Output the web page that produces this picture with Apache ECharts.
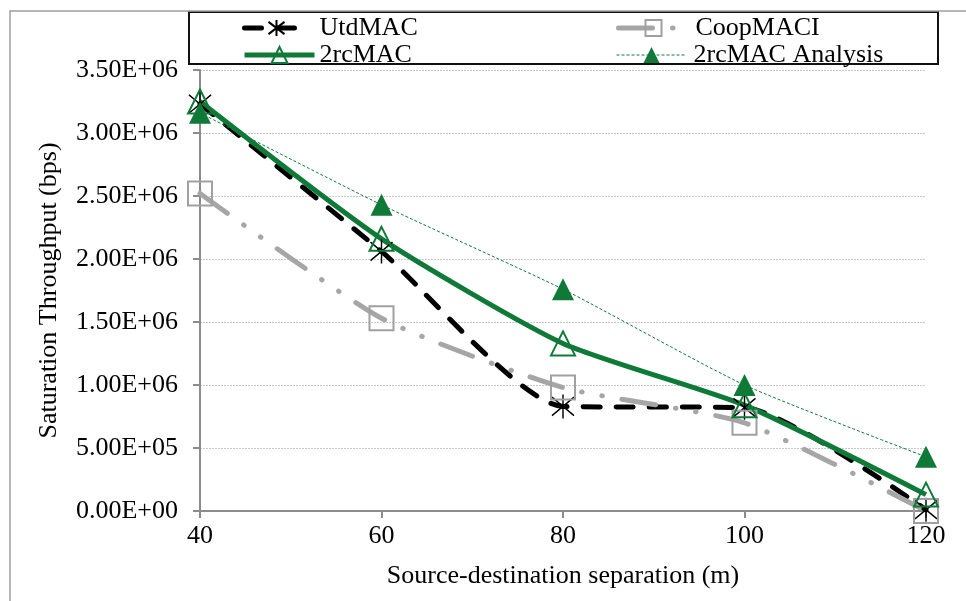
<!DOCTYPE html>
<html>
<head>
<meta charset="utf-8">
<script src="https://cdn.jsdelivr.net/npm/echarts@6/dist/echarts.min.js"></script>
<style>html,body{margin:0;padding:0;background:#fff}#c{width:966px;height:601px}</style>
</head>
<body>
<div id="c"></div>
<script>
var distances = [40, 60, 80, 100, 120];
var utdmac   = [3.23e6, 2.06e6, 0.83e6, 0.82e6, 0.01e6];
var coopmaci = [2.52e6, 1.53e6, 0.98e6, 0.70e6, 0.0];
var rcmac    = [3.25e6, 2.16e6, 1.33e6, 0.84e6, 0.13e6];
var analysis = [3.16e6, 2.43e6, 1.76e6, 1.00e6, 0.43e6];
var yTicks = {min: 0, max: 3.5e6, interval: 5e5};
var xTicks = {min: 40, max: 120, interval: 20};

function pairs(xs, ys){ return xs.map(function(x,i){return [x, ys[i]];}); }
function fmtE(v){
  var s = Number(v).toExponential(2).split('e');
  var e = parseInt(s[1],10);
  var sign = e < 0 ? '-' : '+';
  var a = Math.abs(e);
  return s[0] + 'E' + sign + (a < 10 ? '0' : '') + a;
}
var FONT = 'Liberation Serif';
var GREEN = '#0f7a38';
var GRAY = '#a6a6a6';
var star = 'path://M0,0L10,10M10,0L0,10M5,-1.5L5,11.5';

var chart = echarts.init(document.getElementById('c'), null, {renderer: 'canvas'});
function leg(name, left, top, w, pad){
  return {
    data: [name], left: left, top: top, padding: 0, itemWidth: w, itemHeight: 20,
    selectedMode: false,
    lineStyle: {width: 'inherit'},
    textStyle: {fontFamily: FONT, fontSize: 26, color: '#000', lineHeight: 20, padding: [0,0,0,pad]}
  };
}
chart.setOption({
  animation: false,
  backgroundColor: '#fff',
  grid: {left: 200, right: 40, top: 70, bottom: 90, containLabel: false},
  legend: [
    leg('UtdMAC', 242, 15, 64, 6),
    leg('CoopMACI', 616, 15, 70, 2),
    leg('2rcMAC', 242, 42, 70, 0),
    leg('2rcMAC Analysis', 616, 42, 70, 2)
  ],
  graphic: [
    {type: 'polyline', silent: true, shape: {points: [[10,601],[10,11],[966,11]]},
     style: {stroke: '#a0a0a0', lineWidth: 1.5, fill: null}},
    {type: 'rect', silent: true, z: -1, shape: {x: 189, y: 12, width: 749, height: 52},
     style: {fill: '#fff', stroke: '#111', lineWidth: 2}}
  ],
  xAxis: {
    type: 'value', min: xTicks.min, max: xTicks.max, interval: xTicks.interval,
    name: 'Source-destination separation (m)', nameLocation: 'middle', nameGap: 52,
    nameTextStyle: {fontFamily: FONT, fontSize: 26, color: '#000'},
    axisLine: {lineStyle: {color: '#8c8c8c', width: 2}},
    axisTick: {show: true, length: 7, lineStyle: {color: '#8c8c8c', width: 2}},
    axisLabel: {fontFamily: FONT, fontSize: 26, color: '#000', margin: 12},
    splitLine: {show: false}
  },
  yAxis: {
    type: 'value', min: yTicks.min, max: yTicks.max, interval: yTicks.interval,
    name: 'Saturation Throughput (bps)', nameLocation: 'middle', nameRotate: 90, nameGap: 138,
    nameTextStyle: {fontFamily: FONT, fontSize: 26, color: '#000', padding: [0,0,0,0]},
    axisLine: {show: true, lineStyle: {color: '#8c8c8c', width: 2}},
    axisTick: {show: true, length: 7, lineStyle: {color: '#8c8c8c', width: 2}},
    axisLabel: {fontFamily: FONT, fontSize: 26, color: '#000', margin: 22, formatter: fmtE},
    splitLine: {show: true, lineStyle: {color: '#c8c8c8', width: 1, type: [2,1]}}
  },
  series: [
    {name: 'UtdMAC', type: 'line', data: pairs(distances, utdmac), smooth: 0.2,
     symbol: star, symbolSize: [22, 24],
     lineStyle: {color: '#000', width: 5, type: [17, 16], cap: 'round'},
     itemStyle: {color: 'rgba(0,0,0,0)', borderColor: '#000', borderWidth: 1.5}},
    {name: 'CoopMACI', type: 'line', data: pairs(distances, coopmaci), smooth: 0.2,
     symbol: 'rect', symbolSize: 24,
     lineStyle: {color: GRAY, width: 5, type: [34, 20, 0.5, 20, 0.5, 20], cap: 'round'},
     itemStyle: {color: 'rgba(0,0,0,0)', borderColor: '#a0a0a0', borderWidth: 2}},
    {name: '2rcMAC', type: 'line', data: pairs(distances, rcmac), smooth: 0.2,
     symbol: 'triangle', symbolSize: 24,
     lineStyle: {color: GREEN, width: 5},
     itemStyle: {color: 'rgba(0,0,0,0)', borderColor: GREEN, borderWidth: 2}},
    {name: '2rcMAC Analysis', type: 'line', data: pairs(distances, analysis), smooth: 0.2,
     symbol: 'triangle', symbolSize: 22,
     lineStyle: {color: GREEN, width: 1, type: [3, 2]},
     itemStyle: {color: GREEN, borderWidth: 0}}
  ]
});
</script>
</body>
</html>
